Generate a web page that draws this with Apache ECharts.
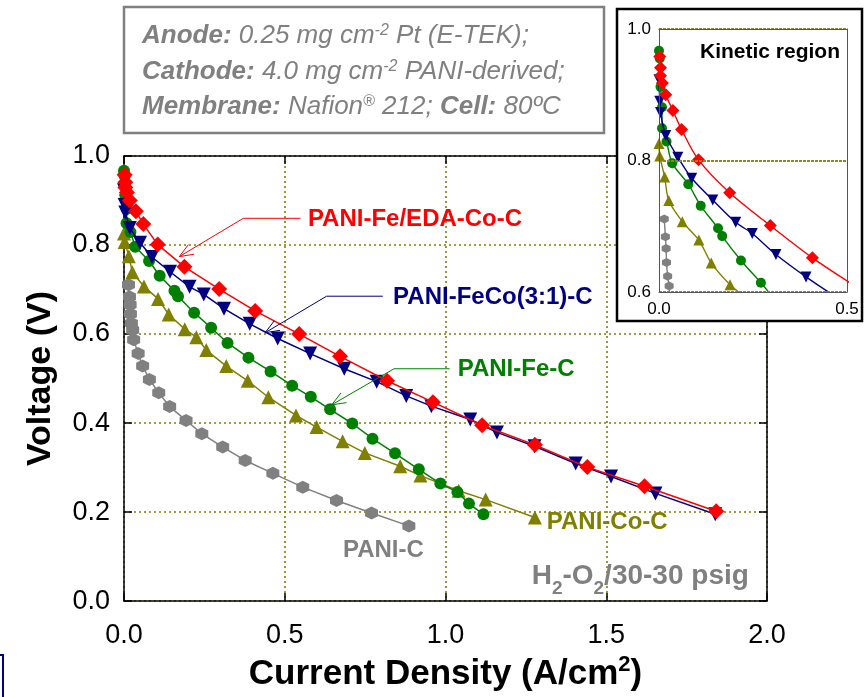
<!DOCTYPE html>
<html><head><meta charset="utf-8">
<script src="https://cdn.jsdelivr.net/npm/echarts@6/dist/echarts.min.js"></script>
<style>html,body{margin:0;padding:0;background:#fff}#c{width:865px;height:697px}</style>
</head><body><div id="c"></div>
<script>
// ---- data (current density A/cm2, voltage V) ----
const xTicksMain = [0, 0.5, 1.0, 1.5, 2.0];
const yTicksMain = [0, 0.2, 0.4, 0.6, 0.8, 1.0];
const seriesNames = ['PANI-C', 'PANI-Co-C', 'PANI-Fe-C', 'PANI-FeCo(3:1)-C', 'PANI-Fe/EDA-Co-C'];

const paniC = [[0.014,0.711],[0.017,0.684],[0.019,0.666],[0.020,0.645],[0.023,0.624],[0.027,0.609],[0.030,0.587],[0.044,0.556],[0.058,0.528],[0.079,0.498],[0.108,0.468],[0.142,0.437],[0.193,0.406],[0.242,0.376],[0.307,0.346],[0.377,0.316],[0.463,0.287],[0.556,0.256],[0.661,0.226],[0.770,0.198],[0.886,0.169]];
const paniCoC = [[0,0.826],[0.002,0.807],[0.015,0.775],[0.026,0.739],[0.062,0.707],[0.106,0.679],[0.139,0.644],[0.189,0.611],[0.225,0.593],[0.256,0.564],[0.318,0.528],[0.385,0.495],[0.449,0.458],[0.535,0.417],[0.599,0.391],[0.680,0.359],[0.749,0.333],[0.859,0.303],[0.922,0.282],[1.041,0.248],[1.125,0.228],[1.278,0.188]];
const paniFeC = [[0,0.967],[0.002,0.955],[0.004,0.912],[0.008,0.881],[0.008,0.849],[0.020,0.829],[0.035,0.796],[0.078,0.764],[0.111,0.731],[0.157,0.697],[0.168,0.685],[0.218,0.648],[0.271,0.614],[0.322,0.580],[0.387,0.547],[0.456,0.516],[0.523,0.484],[0.581,0.459],[0.641,0.431],[0.710,0.399],[0.773,0.365],[0.843,0.332],[0.917,0.296],[0.984,0.264],[1.037,0.245],[1.073,0.219],[1.118,0.195]];
const paniFeCo31C = [[0,0.923],[0.002,0.890],[0.004,0.873],[0.018,0.838],[0.050,0.805],[0.087,0.773],[0.143,0.740],[0.204,0.706],[0.248,0.689],[0.311,0.657],[0.391,0.623],[0.478,0.590],[0.579,0.556],[0.685,0.522],[0.786,0.493],[0.878,0.461],[0.956,0.438],[1.077,0.408],[1.160,0.379],[1.277,0.348],[1.405,0.309],[1.515,0.280],[1.653,0.242],[1.839,0.195]];
const paniFeEDACoC = [[0.002,0.958],[0.004,0.941],[0.004,0.929],[0.009,0.918],[0.018,0.900],[0.037,0.876],[0.060,0.847],[0.105,0.801],[0.188,0.751],[0.296,0.701],[0.408,0.652],[0.545,0.600],[0.672,0.550],[0.818,0.495],[0.961,0.447],[1.114,0.395],[1.278,0.351],[1.441,0.301],[1.619,0.258],[1.842,0.202]];

// annotation anchors in data coordinates
const annotations = [
  {text:'PANI-Fe/EDA-Co-C', color:'#FF0000', at:[0.572,0.858], end:[0.549,0.860], corner:[0.371,0.860], tip:[0.172,0.774]},
  {text:'PANI-FeCo(3:1)-C', color:'#000080', at:[0.837,0.683], end:[0.805,0.685], corner:[0.630,0.685], tip:[0.439,0.603]},
  {text:'PANI-Fe-C', color:'#008000', at:[1.038,0.521], end:[1.013,0.522], corner:[0.840,0.522], tip:[0.646,0.441]},
  {text:'PANI-Co-C', color:'#808000', at:[1.315,0.177]},
  {text:'PANI-C', color:'#808080', at:[0.681,0.115]}
];

const FONT = "'Liberation Sans', Arial, Helvetica, sans-serif";
const hexPath = 'path://M0,-10L8.66,-5L8.66,5L0,10L-8.66,5L-8.66,-5Z';
const styles = [
  {data: paniC, color:'#808080', symbol: hexPath, size:13, isize:9, rot:0},
  {data: paniCoC, color:'#808000', symbol:'triangle', size:14, isize:11, rot:0},
  {data: paniFeC, color:'#008000', symbol:'circle', size:12, isize:10, rot:0},
  {data: paniFeCo31C, color:'#000080', symbol:'triangle', size:14, isize:11, rot:180},
  {data: paniFeEDACoC, color:'#FF0000', symbol:'diamond', size:16, isize:13, rot:0}
];

const chart = echarts.init(document.getElementById('c'), null, {renderer:'canvas'});
const fmt1 = v => Number(v).toFixed(1);
const gridDot = {show:true, lineStyle:{color:'#808000', type:[2,3], width:1.6}};

const series = [];
styles.forEach((s,i) => {
  series.push({name: seriesNames[i], type:'line', xAxisIndex:0, yAxisIndex:0, data:s.data,
    symbol:s.symbol, symbolSize:s.size, symbolRotate:s.rot, showAllSymbol:true,
    lineStyle:{color:s.color, width:1.5}, itemStyle:{color:s.color}, z:2+i*0.1, animation:false});
});
styles.forEach((s,i) => {
  series.push({name: seriesNames[i]+' (inset)', type:'line', xAxisIndex:2, yAxisIndex:2, data:s.data,
    symbol:s.symbol, symbolSize:s.isize, symbolRotate:s.rot, showAllSymbol:true, smooth:0.3, clip:true,
    lineStyle:{color:s.color, width:1.4}, itemStyle:{color:s.color}, z:11+i*0.1, animation:false});
});

const option = {
  animation:false,
  backgroundColor:'#fff',
  textStyle:{fontFamily:FONT},
  grid:[
    {left:124, top:156, width:643, height:451},
    {left:659, top:29, width:188, height:263, z:11}
  ],
  xAxis:[
    {type:'value', gridIndex:0, min:0, max:2, interval:0.5, position:'bottom',
     axisLine:{show:true, onZero:false, lineStyle:{color:'#000', width:1.5}},
     axisTick:{show:true, inside:true, length:8, lineStyle:{color:'#000', width:1.5}},
     axisLabel:{fontSize:27, color:'#000', margin:21, formatter:fmt1, fontFamily:FONT},
     splitLine:gridDot,
     name:'{a|Current Density (A/cm}{s|2}{a|)}', nameLocation:'middle', nameGap:52,
     nameTextStyle:{rich:{a:{fontSize:35, fontWeight:'bold', color:'#000', fontFamily:FONT, verticalAlign:'bottom', lineHeight:38},
                          s:{fontSize:22, fontWeight:'bold', color:'#000', fontFamily:FONT, verticalAlign:'top', lineHeight:38}}}},
    {type:'value', gridIndex:0, min:0, max:2, interval:0.5, position:'top',
     axisLine:{show:true, onZero:false, lineStyle:{color:'#000', width:1.5}},
     axisTick:{show:true, inside:true, length:8, lineStyle:{color:'#000', width:1.5}},
     axisLabel:{show:false}, splitLine:{show:false}},
    {type:'value', gridIndex:1, min:0, max:0.5, interval:0.5, position:'bottom', z:12,
     axisLine:{show:true, onZero:false, lineStyle:{color:'#555', width:1}},
     axisTick:{show:false},
     axisLabel:{fontSize:17, color:'#000', margin:9, formatter:fmt1, fontFamily:FONT},
     splitLine:{show:false}},
    {type:'value', gridIndex:1, min:0, max:0.5, interval:0.5, position:'top', z:12,
     axisLine:{show:true, onZero:false, lineStyle:{color:'#555', width:1}},
     axisTick:{show:false}, axisLabel:{show:false}, splitLine:{show:false}}
  ],
  yAxis:[
    {type:'value', gridIndex:0, min:0, max:1, interval:0.2, position:'left',
     axisLine:{show:true, onZero:false, lineStyle:{color:'#000', width:1.5}},
     axisTick:{show:true, inside:true, length:8, lineStyle:{color:'#000', width:1.5}},
     axisLabel:{fontSize:27, color:'#000', margin:14, formatter:fmt1, fontFamily:FONT},
     splitLine:gridDot,
     name:'Voltage (V)', nameLocation:'middle', nameGap:66, nameRotate:90,
     nameTextStyle:{fontSize:34, fontWeight:'bold', color:'#000', fontFamily:FONT}},
    {type:'value', gridIndex:0, min:0, max:1, interval:0.2, position:'right', z:1,
     axisLine:{show:true, onZero:false, lineStyle:{color:'#000', width:1.5}},
     axisTick:{show:true, inside:true, length:8, lineStyle:{color:'#000', width:1.5}},
     axisLabel:{show:false}, splitLine:{show:false}},
    {type:'value', gridIndex:1, min:0.6, max:1.0, interval:0.2, position:'left', z:12,
     axisLine:{show:true, onZero:false, lineStyle:{color:'#555', width:1}},
     axisTick:{show:false},
     axisLabel:{fontSize:17, color:'#000', margin:8, formatter:fmt1, fontFamily:FONT},
     splitLine:{show:true, lineStyle:{color:'#8a8a20', type:[3,1], width:2}}},
    {type:'value', gridIndex:1, min:0.6, max:1.0, interval:0.2, position:'right', z:12,
     axisLine:{show:true, onZero:false, lineStyle:{color:'#555', width:1}},
     axisTick:{show:false}, axisLabel:{show:false}, splitLine:{show:false}}
  ],
  series: series
};
chart.setOption(option);

// ---- graphics: boxes, annotations ----
const px = p => chart.convertToPixel({gridIndex:0}, p);
const g = [];
// condition text box
g.push({type:'rect', z:5, shape:{x:124, y:7, width:480, height:126}, style:{fill:'#fff', stroke:'#808080', lineWidth:2.5}});
const boxRich = {
  b:{fontSize:26, fontWeight:'bold', fontStyle:'italic', fill:'#808080', fontFamily:FONT},
  i:{fontSize:26, fontStyle:'italic', fill:'#808080', fontFamily:FONT},
  s:{fontSize:16, fontStyle:'italic', fill:'#808080', fontFamily:FONT, verticalAlign:'top'}
};
const boxLines = [
  '{b|Anode:}{i| 0.25 mg cm}{s|-2}{i| Pt (E-TEK);}',
  '{b|Cathode:}{i| 4.0 mg cm}{s|-2}{i| PANI-derived;}',
  '{b|Membrane:}{i| Nafion}{s|®}{i| 212; }{b|Cell:}{i| 80ºC}'
];
[36, 72, 107].forEach((y,k) => {
  g.push({type:'text', z:6, x:142, y:y, style:{text:boxLines[k], rich:boxRich, verticalAlign:'middle', align:'left', fill:'#808080'}});
});
// inset frame
g.push({type:'rect', z:5, shape:{x:617, y:9, width:245, height:312}, style:{fill:'#fff', stroke:'#000', lineWidth:2.5}});
g.push({type:'text', z:13, x:700, y:52, style:{text:'Kinetic region', fontSize:21, fontWeight:'bold', fill:'#000', fontFamily:FONT, verticalAlign:'middle'}});
// small bracket at lower-left edge
g.push({type:'rect', z:5, shape:{x:-10, y:655, width:13, height:60}, style:{fill:'none', stroke:'#000080', lineWidth:2}});

annotations.forEach(a => {
  const p = px(a.at);
  g.push({type:'text', z:8, x:p[0], y:p[1], style:{text:a.text, fontSize:24, fontWeight:'bold', fill:a.color, fontFamily:FONT, verticalAlign:'middle', align:'left'}});
  if (a.tip) {
    const e = px(a.end), c = px(a.corner), t = px(a.tip);
    g.push({type:'polyline', z:8, shape:{points:[e,c,t]}, style:{stroke:a.color, lineWidth:1, fill:'none'}});
    const dx = c[0]-t[0], dy = c[1]-t[1], L = Math.hypot(dx,dy), ux = dx/L, uy = dy/L;
    const arm = (ang) => [t[0] + 15*(ux*Math.cos(ang) - uy*Math.sin(ang)), t[1] + 15*(ux*Math.sin(ang) + uy*Math.cos(ang))];
    g.push({type:'polyline', z:8, shape:{points:[arm(0.38), t, arm(-0.38)]}, style:{stroke:a.color, lineWidth:1, fill:'none'}});
  }
});
// pressure label (subscripts)
const pp = px([1.268, 0.057]);
g.push({type:'text', z:8, x:pp[0], y:pp[1], style:{
  text:'{n|H}{s|2}{n|-O}{s|2}{n|/30-30 psig}', verticalAlign:'middle', align:'left',
  rich:{n:{fontSize:28, fontWeight:'bold', fill:'#808080', fontFamily:FONT, verticalAlign:'bottom', lineHeight:30},
        s:{fontSize:19, fontWeight:'bold', fill:'#808080', fontFamily:FONT, verticalAlign:'bottom', lineHeight:30, padding:[0,0,-8,0]}}}});

chart.setOption({graphic:{elements:g}});
</script></body></html>
